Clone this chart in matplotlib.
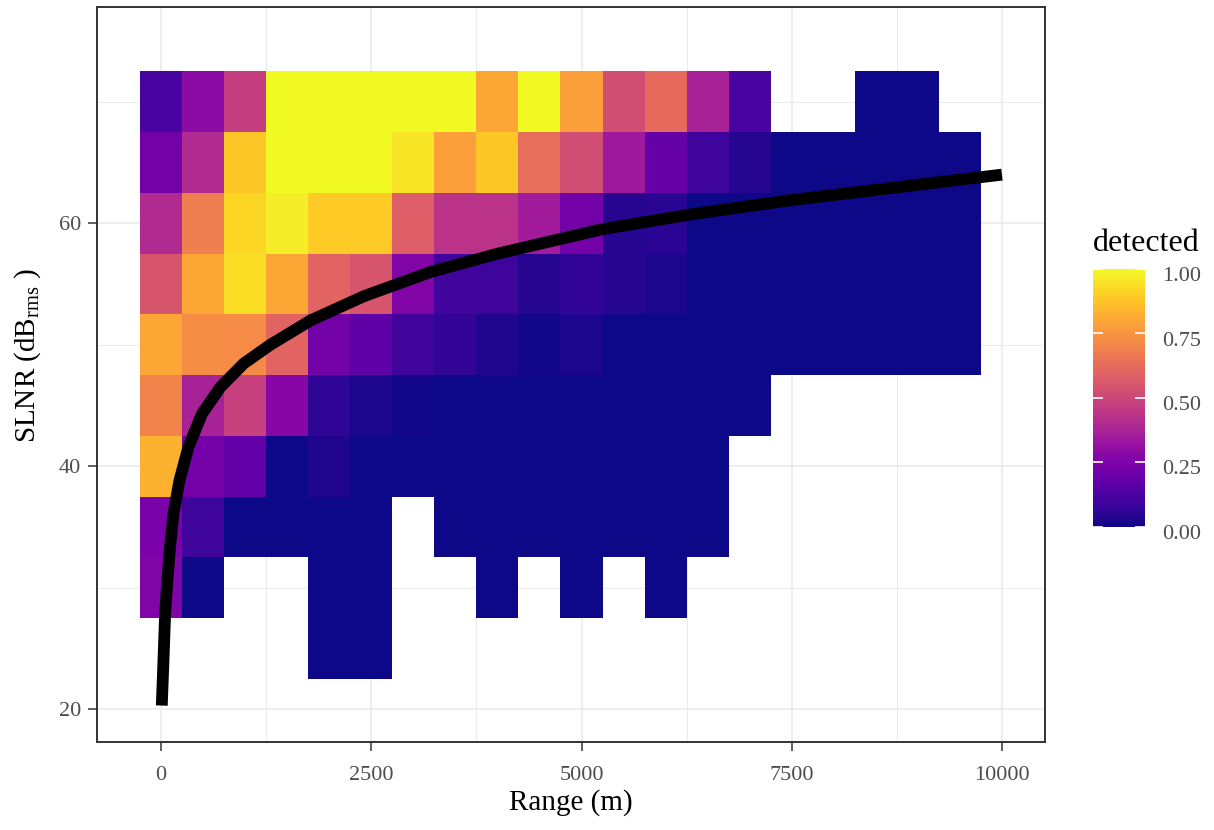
import numpy as np
import matplotlib.pyplot as plt
from matplotlib.transforms import ScaledTranslation

plt.rcParams['font.family'] = ['Liberation Serif', 'DejaVu Serif']
plt.rcParams['mathtext.fontset'] = 'custom'
plt.rcParams['mathtext.rm'] = 'Liberation Serif'
plt.rcParams['mathtext.it'] = 'Liberation Serif:italic'

nan = np.nan

# tile centres: range bins (m) and SLNR bins (dB), top row first
range_bins = np.arange(0, 10000, 500)
slnr_bins = np.array([70, 65, 60, 55, 50, 45, 40, 35, 30, 25])

# proportion detected in each bin (nan = no data)
detected = np.array([
    [0.12, 0.29, 0.47, 1.00, 1.00, 1.00, 1.00, 1.00, 0.80, 1.00, 0.78, 0.52, 0.62, 0.37, 0.12, nan, nan, 0.0, 0.0, nan],
    [0.22, 0.40, 0.88, 1.00, 1.00, 1.00, 0.95, 0.78, 0.88, 0.63, 0.52, 0.34, 0.19, 0.09, 0.04, 0.0, 0.0, 0.0, 0.0, 0.0],
    [0.40, 0.68, 0.92, 0.97, 0.89, 0.89, 0.58, 0.43, 0.43, 0.35, 0.22, 0.04, 0.05, 0.0, 0.0, 0.0, 0.0, 0.0, 0.0, 0.0],
    [0.55, 0.80, 0.93, 0.80, 0.60, 0.55, 0.26, 0.10, 0.09, 0.04, 0.07, 0.04, 0.02, 0.0, 0.0, 0.0, 0.0, 0.0, 0.0, 0.0],
    [0.80, 0.73, 0.72, 0.60, 0.22, 0.17, 0.09, 0.07, 0.03, 0.01, 0.02, 0.0, 0.0, 0.0, 0.0, 0.0, 0.0, 0.0, 0.0, 0.0],
    [0.70, 0.37, 0.48, 0.27, 0.06, 0.02, 0.01, 0.0, 0.0, 0.0, 0.0, 0.0, 0.0, 0.0, 0.0, nan, nan, nan, nan, nan],
    [0.83, 0.23, 0.18, 0.0, 0.03, 0.0, 0.0, 0.0, 0.0, 0.0, 0.0, 0.0, 0.0, 0.0, nan, nan, nan, nan, nan, nan],
    [0.24, 0.09, 0.0, 0.0, 0.0, 0.0, nan, 0.0, 0.0, 0.0, 0.0, 0.0, 0.0, 0.0, nan, nan, nan, nan, nan, nan],
    [0.26, 0.0, nan, nan, 0.0, 0.0, nan, nan, 0.0, nan, 0.0, nan, 0.0, nan, nan, nan, nan, nan, nan, nan],
    [nan, nan, nan, nan, 0.0, 0.0, nan, nan, nan, nan, nan, nan, nan, nan, nan, nan, nan, nan, nan, nan],
])

# detection threshold curve
curve_range = [8, 27, 48, 75, 107, 147, 219, 326, 485, 704, 982, 1300, 1778,
               2414, 3210, 4006, 5240, 6366, 7493, 8618, 10000]
curve_slnr = [20.3, 23.8, 27.9, 30.6, 33.4, 36.1, 38.85, 41.6, 44.3, 46.5, 48.45,
              50.0, 52.0, 54.0, 56.0, 57.5, 59.5, 60.8, 61.9, 62.85, 64.0]

x_edges = np.append(range_bins - 250, range_bins[-1] + 250)
y_edges = np.append(slnr_bins + 2.5, slnr_bins[-1] - 2.5)

fig = plt.figure(figsize=(12.14, 8.30), dpi=100)
ax = fig.add_axes([0.0799, 0.106, 0.7809, 0.8856])

mesh = ax.pcolormesh(x_edges, y_edges, np.ma.masked_invalid(detected),
                     cmap='plasma', vmin=0, vmax=1, zorder=2)
ax.plot(curve_range, curve_slnr, color='black', lw=8.5,
        solid_capstyle='butt', solid_joinstyle='round', zorder=3)

ax.set_xlim(-762.5, 10512.5)
ax.set_ylim(17.3, 77.8)
ax.set_xticks([0, 2500, 5000, 7500, 10000])
ax.set_xticks([1250, 3750, 6250, 8750], minor=True)
ax.set_yticks([20, 40, 60])
ax.set_yticks([30, 50, 70], minor=True)

ax.grid(which='major', color='#ebebeb', lw=1.2, zorder=0)
ax.grid(which='minor', color='#ebebeb', lw=0.7, zorder=0)
ax.set_axisbelow(True)

ax.tick_params(which='major', length=6.5, width=1.1, color='#333333',
               labelcolor='#4d4d4d', labelsize=16, pad=5)
ax.tick_params(axis='x', which='major', pad=10.5)
ax.tick_params(which='minor', length=0)
for s in ax.spines.values():
    s.set_color('#333333')
    s.set_linewidth(1.4)

ax.set_xlabel('Range (m)', fontsize=21, labelpad=3)
ax.set_ylabel(r'SLNR (dB$_{\mathrm{rms}}$ )', fontsize=21)
ax.yaxis.set_label_coords(-0.057, 0.525)

# colour bar
cax = fig.add_axes([1093 / 1214, 1 - 527 / 830, 52 / 1214, 258 / 830])
cb = fig.colorbar(mesh, cax=cax, ticks=[0, 0.25, 0.5, 0.75, 1.0])
cb.outline.set_visible(False)
cb.ax.set_yticklabels(['0.00', '0.25', '0.50', '0.75', '1.00'])
cax.yaxis.set_ticks_position('both')
cax.tick_params(axis='y', which='major', direction='in', color='white',
                length=7, width=1.2, labelcolor='#4d4d4d', labelsize=16,
                pad=12, labelleft=False, labelright=True)
cax.minorticks_off()
shift = ScaledTranslation(0, -5 / 100, fig.dpi_scale_trans)
for lab in cax.get_yticklabels():
    lab.set_transform(lab.get_transform() + shift)
fig.text(1093 / 1214, 1 - 251 / 830, 'detected', ha='left', va='baseline',
         fontsize=23)

fig.savefig('out.png', dpi=100)
